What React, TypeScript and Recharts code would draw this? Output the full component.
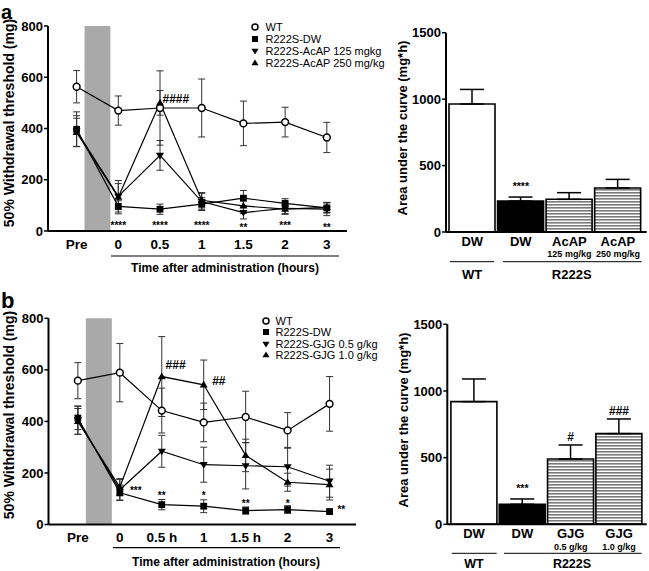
import React from "react";
import {
  LineChart,
  Line,
  XAxis,
  YAxis,
  ErrorBar,
  ReferenceArea,
  ReferenceDot,
  Legend,
  BarChart,
  Bar,
  Cell,
} from "recharts";

const FONT = "'Liberation Sans', Arial, Helvetica, sans-serif";

// x positions: Pre, then hours after administration
const timePos = [-1, 0, 1, 2, 3, 4, 5];
const timeLabelsA = ["Pre", "0", "0.5", "1", "1.5", "2", "3"];
const timeLabelsB = ["Pre", "0", "0.5 h", "1", "1.5 h", "2", "3"];
const dosingBand = [-0.81, -0.19];

// panel a – 50% withdrawal threshold (mg)
const wtA = [563, 470, 480, 480, 420, 425, 365];
const wtAErr = [63, 57, 145, 113, 87, 58, 59];
const dwA = [397, 96, 85, 105, 128, 108, 90];
const dwAErr = [68, 22, 20, 25, 30, 18, 20];
const acap125 = [390, 135, 295, 115, 72, 88, 85];
const acap125Err = [60, 50, 58, 32, 25, 20, 25];
const acap250 = [385, 132, 500, 120, 98, 85, 92];
const acap250Err = [55, 65, 48, 30, 30, 20, 20];

// panel b – 50% withdrawal threshold (mg)
const wtB = [558, 589, 442, 396, 417, 365, 468];
const wtBErr = [70, 113, 87, 75, 100, 69, 106];
const dwB = [413, 123, 77, 71, 54, 58, 50];
const dwBErr = [45, 30, 20, 25, 14, 15, 10];
const gjg05 = [405, 135, 284, 232, 228, 224, 168];
const gjg05Err = [55, 40, 62, 68, 90, 75, 62];
const gjg10 = [400, 145, 574, 542, 268, 164, 155];
const gjg10Err = [50, 33, 155, 96, 63, 35, 60];

const legendA = ["WT", "R222S-DW", "R222S-AcAP 125 mgkg", "R222S-AcAP 250 mg/kg"];
const legendB = ["WT", "R222S-DW", "R222S-GJG 0.5 g/kg", "R222S-GJG 1.0 g/kg"];

// significance marks (x position, threshold level)
const sigA = [
  { x: 0, y: 30, t: "****" },
  { x: 1, y: 30, t: "****" },
  { x: 2, y: 30, t: "****" },
  { x: 3, y: 21, t: "**" },
  { x: 4, y: 32, t: "***" },
  { x: 5, y: 21, t: "**" },
  { x: 1.38, y: 517, t: "####" },
];
const sigB = [
  { x: 0.38, y: 140, t: "***" },
  { x: 1, y: 121, t: "**" },
  { x: 2, y: 123, t: "*" },
  { x: 3, y: 91, t: "**" },
  { x: 4, y: 91, t: "*" },
  { x: 5.28, y: 69, t: "**" },
  { x: 1.33, y: 619, t: "###" },
  { x: 2.36, y: 557, t: "##" },
];

// area under the curve (mg*h)
const aucNamesA = ["DW", "DW", "AcAP", "AcAP"];
const aucDosesA = ["", "", "125 mg/kg", "250 mg/kg"];
const aucA = [963, 233, 246, 331];
const aucAErr = [110, 30, 50, 65];
const aucSigA = [{ bar: 1, y: 366, t: "****" }];

const aucNamesB = ["DW", "DW", "GJG", "GJG"];
const aucDosesB = ["", "", "0.5 g/kg", "1.0 g/kg"];
const aucB = [920, 150, 490, 680];
const aucBErr = [170, 40, 105, 110];
const aucSigB = [
  { bar: 1, y: 287, t: "***" },
  { bar: 2, y: 657, t: "#" },
  { bar: 3, y: 850, t: "###" },
];

const seriesKeys = [
  { key: "wt", kind: "circle" },
  { key: "dw", kind: "square" },
  { key: "d1", kind: "down" },
  { key: "d2", kind: "up" },
];

function buildRows(vals: number[][], errs: number[][]) {
  return timePos.map((pos, i) => {
    const row: any = { pos };
    seriesKeys.forEach((s, j) => {
      row[s.key] = vals[j][i];
      row[s.key + "Err"] = errs[j][i];
    });
    return row;
  });
}

const rowsA = buildRows([wtA, dwA, acap125, acap250], [wtAErr, dwAErr, acap125Err, acap250Err]);
const rowsB = buildRows([wtB, dwB, gjg05, gjg10], [wtBErr, dwBErr, gjg05Err, gjg10Err]);

function Marker({ kind, cx, cy, s = 3.4 }: any) {
  if (cx == null || cy == null) return null;
  if (kind === "circle")
    return <circle cx={cx} cy={cy} r={s} fill="#fff" stroke="#000" strokeWidth={1.5} />;
  if (kind === "square")
    return <rect x={cx - s} y={cy - s} width={2 * s} height={2 * s} fill="#000" />;
  if (kind === "down")
    return (
      <path
        d={`M${cx - s - 0.6},${cy - s + 0.8} L${cx + s + 0.6},${cy - s + 0.8} L${cx},${cy + s + 0.6} Z`}
        fill="#000"
      />
    );
  return (
    <path
      d={`M${cx - s - 0.6},${cy + s - 0.8} L${cx + s + 0.6},${cy + s - 0.8} L${cx},${cy - s - 0.6} Z`}
      fill="#000"
    />
  );
}

function SigMark({ cx, cy, t, size }: any) {
  // asterisks sit high in the em box, so push them down a little
  const shift = t.startsWith("*") ? size * 0.23 : 0;
  return (
    <text
      x={cx}
      y={cy + shift}
      textAnchor="middle"
      dominantBaseline="central"
      fontSize={size}
      fontWeight={700}
      fontFamily={FONT}
      fill="#000"
    >
      {t}
    </text>
  );
}

function LegendBox({ items, gap, rowH }: any) {
  return (
    <div style={{ fontFamily: FONT, fontSize: 11, color: "#000", whiteSpace: "nowrap" }}>
      {items.map((t: string, i: number) => (
        <div key={t} style={{ display: "flex", alignItems: "center", height: rowH }}>
          <svg width={10} height={10} style={{ flex: "none" }}>
            <Marker kind={seriesKeys[i].kind} cx={5} cy={5} s={3} />
          </svg>
          <span style={{ marginLeft: gap }}>{t}</span>
        </div>
      ))}
    </div>
  );
}

const axisStroke = { stroke: "#000", strokeWidth: 2 };
const tickFont = { fill: "#000", fontSize: 13, fontWeight: 700, fontFamily: FONT };

function LinePanel({ top, height, rows, labels, xDomain, margin, xh, legend, legendPos, sig }: any) {
  return (
    <div style={{ position: "absolute", left: 0, top }}>
      <LineChart width={360} height={height} data={rows} margin={margin}>
        <ReferenceArea
          x1={dosingBand[0]}
          x2={dosingBand[1]}
          y1={0}
          y2={800}
          fill="#a9a9a9"
          fillOpacity={1}
          stroke="none"
        />
        <XAxis
          type="number"
          dataKey="pos"
          domain={xDomain}
          allowDataOverflow
          ticks={timePos}
          interval={0}
          tickFormatter={(v: number) => labels[timePos.indexOf(v)]}
          tickLine={false}
          tickSize={0}
          tickMargin={8}
          height={xh}
          axisLine={axisStroke}
          tick={{ ...tickFont, fontSize: 13.5 }}
        />
        <YAxis
          type="number"
          domain={[0, 800]}
          ticks={[0, 200, 400, 600, 800]}
          interval={0}
          width={40}
          tickSize={4}
          tickMargin={1}
          axisLine={axisStroke}
          tickLine={{ stroke: "#000", strokeWidth: 1.5 }}
          tick={tickFont}
        />
        {seriesKeys.map((s) => (
          <Line
            key={s.key}
            dataKey={s.key}
            type="linear"
            stroke="#000"
            strokeWidth={1.2}
            isAnimationActive={false}
            activeDot={false}
            dot={(p: any) => <Marker key={p.index} kind={s.kind} cx={p.cx} cy={p.cy} />}
          >
            <ErrorBar dataKey={s.key + "Err"} width={3.5} stroke="#333" strokeWidth={1} direction="y" />
          </Line>
        ))}
        {sig.map((m: any, i: number) => (
          <ReferenceDot
            key={i}
            x={m.x}
            y={m.y}
            r={0}
            shape={(p: any) => <SigMark cx={p.cx} cy={p.cy} t={m.t} size={m.t.startsWith("*") ? 10 : 12} />}
          />
        ))}
        <Legend
          layout="vertical"
          align="center"
          verticalAlign="middle"
          wrapperStyle={{ left: legendPos.left, top: legendPos.top, width: 200 }}
          content={() => <LegendBox items={legend} gap={legendPos.gap} rowH={legendPos.rowH} />}
        />
      </LineChart>
    </div>
  );
}

function AucTick({ x, y, payload, names, doses }: any) {
  const i = Number(payload.value);
  return (
    <g>
      <text x={x} y={y + 13.6} textAnchor="middle" fontSize={13} fontWeight={700} fontFamily={FONT} fill="#000">
        {names[i]}
      </text>
      {doses[i] ? (
        <text x={x} y={y + 25.2} textAnchor="middle" fontSize={9} fontWeight={700} fontFamily={FONT} fill="#000">
          {doses[i]}
        </text>
      ) : null}
    </g>
  );
}

const barFills = (id: string) => ["#fff", "#000", `url(#${id})`, `url(#${id})`];

function BarPanel({ top, height, values, errs, names, doses, margin, xh, padding, sig, patternId }: any) {
  const rows = values.map((v: number, i: number) => ({ id: String(i), v, err: [0, errs[i]] }));
  const fills = barFills(patternId);
  return (
    <div style={{ position: "absolute", left: 360, top }}>
      <BarChart width={289} height={height} data={rows} margin={margin}>
        <defs>
          <pattern id={patternId} width={4} height={3} patternUnits="userSpaceOnUse">
            <rect width={4} height={3} fill="#fff" />
            <rect width={4} height={1.6} fill="#7a7a7a" />
          </pattern>
        </defs>
        <XAxis
          dataKey="id"
          type="category"
          tickLine={false}
          tickSize={0}
          tickMargin={0}
          height={xh}
          padding={padding}
          interval={0}
          axisLine={axisStroke}
          tick={(p: any) => <AucTick {...p} names={names} doses={doses} />}
        />
        <YAxis
          type="number"
          domain={[0, 1500]}
          ticks={[0, 500, 1000, 1500]}
          interval={0}
          width={40}
          tickSize={4}
          tickMargin={1}
          axisLine={axisStroke}
          tickLine={{ stroke: "#000", strokeWidth: 1.5 }}
          tick={tickFont}
        />
        <Bar dataKey="v" barSize={46} stroke="#000" strokeWidth={1.6} isAnimationActive={false}>
          {rows.map((r: any, i: number) => (
            <Cell key={r.id} fill={fills[i]} />
          ))}
          <ErrorBar dataKey="err" width={12} stroke="#000" strokeWidth={1.5} direction="y" />
        </Bar>
        {sig.map((m: any, i: number) => (
          <ReferenceDot
            key={i}
            x={String(m.bar)}
            y={m.y}
            r={0}
            shape={(p: any) => <SigMark cx={p.cx} cy={p.cy} t={m.t} size={m.t.startsWith("*") ? 10.5 : 12} />}
          />
        ))}
      </BarChart>
    </div>
  );
}

function Decor() {
  const bold = { fontWeight: 700, fill: "#000" } as any;
  return (
    <svg
      width={649}
      height={571}
      style={{ position: "absolute", left: 0, top: 0, pointerEvents: "none" }}
      fontFamily={FONT}
    >
      <text x={1} y={18.5} fontSize={20} {...bold}>a</text>
      <text x={1} y={308} fontSize={22} {...bold}>b</text>

      <text transform="translate(14,123) rotate(-90)" textAnchor="middle" fontSize={14} {...bold}>
        50% Withdrawal threshold (mg)
      </text>
      <text transform="translate(14,415) rotate(-90)" textAnchor="middle" fontSize={14} {...bold}>
        50% Withdrawal threshold (mg)
      </text>
      <text transform="translate(406.5,128) rotate(-90)" textAnchor="middle" fontSize={13} {...bold}>
        Area under the curve (mg*h)
      </text>
      <text transform="translate(407.5,420) rotate(-90)" textAnchor="middle" fontSize={13} {...bold}>
        Area under the curve (mg*h)
      </text>

      <line x1={111} x2={339} y1={256} y2={256} stroke="#000" strokeWidth={1.2} />
      <text x={225} y={272.3} textAnchor="middle" fontSize={12} {...bold}>
        Time after administration (hours)
      </text>
      <line x1={113} x2={340} y1={547.7} y2={547.7} stroke="#000" strokeWidth={1.2} />
      <text x={226} y={566} textAnchor="middle" fontSize={12} {...bold}>
        Time after administration (hours)
      </text>

      <line x1={450} x2={494} y1={261.7} y2={261.7} stroke="#000" strokeWidth={1} />
      <line x1={503} x2={641.7} y1={261.7} y2={261.7} stroke="#000" strokeWidth={1} />
      <text x={472} y={278.7} textAnchor="middle" fontSize={13} {...bold}>WT</text>
      <text x={571.7} y={278.7} textAnchor="middle" fontSize={13} {...bold}>R222S</text>

      <line x1={451.7} x2={496.7} y1={553.3} y2={553.3} stroke="#000" strokeWidth={1} />
      <line x1={504} x2={641.7} y1={553.3} y2={553.3} stroke="#000" strokeWidth={1} />
      <text x={474} y={567.8} textAnchor="middle" fontSize={12.5} {...bold}>WT</text>
      <text x={572} y={567.8} textAnchor="middle" fontSize={12.5} {...bold}>R222S</text>
    </svg>
  );
}

export default function App() {
  return (
    <div
      style={{
        position: "absolute",
        left: 0,
        top: 0,
        width: 649,
        height: 571,
        overflow: "hidden",
        background: "#fff",
      }}
    >
      <LinePanel
        top={0}
        height={290}
        rows={rowsA}
        labels={timeLabelsA}
        xDomain={[-1.686, 5.484]}
        margin={{ top: 26, right: 13, bottom: 19, left: 8 }}
        xh={40}
        legend={legendA}
        legendPos={{ left: 249.5, top: 21, gap: 6, rowH: 12.1 }}
        sig={sigA}
      />
      <LinePanel
        top={292}
        height={279}
        rows={rowsB}
        labels={timeLabelsB}
        xDomain={[-1.7, 5.63]}
        margin={{ top: 26.3, right: 4, bottom: 6.5, left: 8.5 }}
        xh={40}
        legend={legendB}
        legendPos={{ left: 261, top: 22.9, gap: 4.5, rowH: 11.6 }}
        sig={sigB}
      />
      <BarPanel
        top={0}
        height={290}
        values={aucA}
        errs={aucAErr}
        names={aucNamesA}
        doses={aucDosesA}
        margin={{ top: 32.7, right: 2.3, bottom: 8, left: 46 }}
        xh={50}
        padding={{ left: 2, right: 4.5 }}
        sig={aucSigA}
        patternId="stripesA"
      />
      <BarPanel
        top={292}
        height={279}
        values={aucB}
        errs={aucBErr}
        names={aucNamesB}
        doses={aucDosesB}
        margin={{ top: 32.3, right: 2.3, bottom: 0.7, left: 47.3 }}
        xh={46}
        padding={{ left: 2.6, right: 3.5 }}
        sig={aucSigB}
        patternId="stripesB"
      />
      <Decor />
    </div>
  );
}
